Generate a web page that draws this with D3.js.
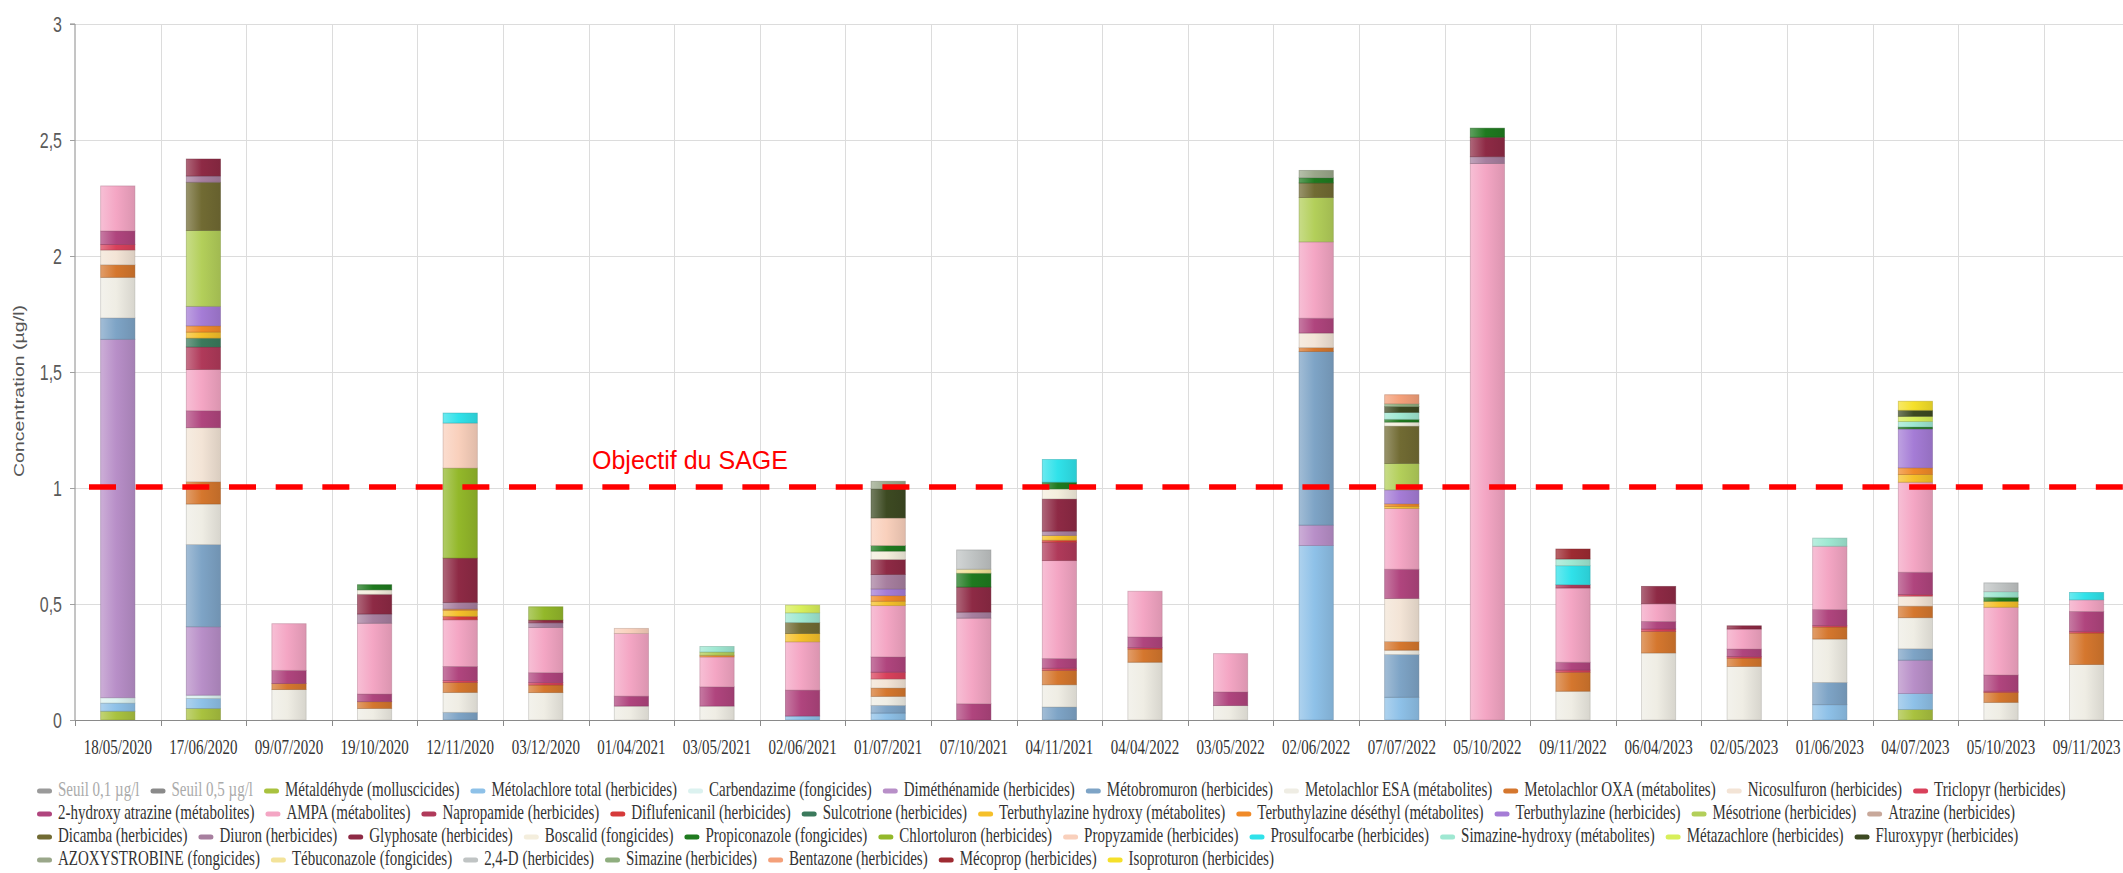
<!DOCTYPE html>
<meta charset="utf-8">
<style>
  body { margin: 0; background: #fff; }
  svg { display: block; }
</style>
<svg width="2123" height="873"></svg>
<script src="https://d3js.org/d3.v7.min.js"></script>
<script>
// dates des prélèvements
const dates = [
  "18/05/2020", "17/06/2020", "09/07/2020", "19/10/2020", "12/11/2020", "03/12/2020",
  "01/04/2021", "03/05/2021", "02/06/2021", "01/07/2021", "07/10/2021", "04/11/2021",
  "04/04/2022", "03/05/2022", "02/06/2022", "07/07/2022", "05/10/2022", "09/11/2022",
  "06/04/2023", "02/05/2023", "01/06/2023", "04/07/2023", "05/10/2023", "09/11/2023"
];

const seriesNames = [
  "Seuil 0,1 µg/l", "Seuil 0,5 µg/l", "Métaldéhyde (molluscicides)", "Métolachlore total (herbicides)",
  "Carbendazime (fongicides)", "Diméthénamide (herbicides)", "Métobromuron (herbicides)",
  "Metolachlor ESA (métabolites)", "Metolachlor OXA (métabolites)", "Nicosulfuron (herbicides)",
  "Triclopyr (herbicides)",
  "2-hydroxy atrazine (métabolites)", "AMPA (métabolites)", "Napropamide (herbicides)",
  "Diflufenicanil (herbicides)", "Sulcotrione (herbicides)", "Terbuthylazine hydroxy (métabolites)",
  "Terbuthylazine déséthyl (métabolites)", "Terbuthylazine (herbicides)", "Mésotrione (herbicides)",
  "Atrazine (herbicides)",
  "Dicamba (herbicides)", "Diuron (herbicides)", "Glyphosate (herbicides)", "Boscalid (fongicides)",
  "Propiconazole (fongicides)", "Chlortoluron (herbicides)", "Propyzamide (herbicides)",
  "Prosulfocarbe (herbicides)", "Simazine-hydroxy (métabolites)", "Métazachlore (herbicides)",
  "Fluroxypyr (herbicides)",
  "AZOXYSTROBINE (fongicides)", "Tébuconazole (fongicides)", "2,4-D (herbicides)",
  "Simazine (herbicides)", "Bentazone (herbicides)", "Mécoprop (herbicides)", "Isoproturon (herbicides)"
];

const seriesColors = [
  "#9a9a9a", "#8a8a8a", "#a9c23f", "#8ec1e8",
  "#dcf2f0", "#b88fc8", "#7ea4c6",
  "#efede4", "#d5772e", "#f3e4d6",
  "#d9415b",
  "#b0457e", "#f4a6c4", "#b03a5a",
  "#d63a3a", "#3b7a5c", "#f5c02a",
  "#f08a28", "#a57cd6", "#b3cf5a",
  "#c8a89a",
  "#716b33", "#a77f9f", "#8e2a45", "#f4eedd",
  "#1f7a1f", "#93b82a", "#f9d0bc",
  "#30e2ea", "#9fe8d2", "#d8ef5a",
  "#3d4a22",
  "#9aa78a", "#f3e39a", "#c0c4c4",
  "#8fae7f", "#f4a07a", "#9e2b32", "#f5e02a"
];

// séries masquées (seuils)
const hiddenSeries = ["Seuil 0,1 µg/l", "Seuil 0,5 µg/l"];
const legendRows = [11, 10, 11, 7];

// concentrations (µg/l), une valeur par date
const seuil01 = [];
const seuil05 = [];
const metaldehyde       = [0.038,0.05,0,0,0,0, 0,0,0,0,0,0, 0,0,0,0,0,0, 0,0,0,0.045,0,0];
const metolachloreTotal = [0.035,0.043,0,0,0,0, 0,0,0.017,0.03,0,0, 0,0,0.752,0.098,0,0, 0,0,0.066,0.069,0,0];
const carbendazime      = [0.023,0.014,0,0,0,0, 0,0,0,0,0,0, 0,0,0,0,0,0, 0,0,0,0,0,0];
const dimethenamide     = [1.545,0.295,0,0,0,0, 0,0,0,0,0,0, 0,0,0.088,0,0,0, 0,0,0,0.144,0,0];
const metobromuron      = [0.092,0.354,0,0,0.033,0, 0,0,0,0.033,0,0.056, 0,0,0.748,0.184,0,0, 0,0,0.096,0.049,0,0];
const metolachlorEsa    = [0.175,0.175,0.131,0.05,0.086,0.118, 0.06,0.06,0,0.039,0,0.096, 0.249,0.062,0,0.019,0,0.124, 0.289,0.231,0.187,0.134,0.076,0.239];
const metolachlorOxa    = [0.054,0.096,0.026,0.029,0.043,0.033, 0,0,0,0.036,0,0.062, 0.057,0,0.017,0.037,0,0.082, 0.093,0.036,0.052,0.05,0.043,0.136];
const nicosulfuron      = [0.064,0.233,0,0,0,0, 0,0,0,0.039,0,0, 0,0,0.063,0.186,0,0, 0,0,0,0.043,0,0];
const triclopyr         = [0.024,0,0,0,0.008,0.01, 0,0,0,0.029,0,0.009, 0.006,0,0,0,0,0.009, 0.01,0.007,0.006,0.007,0.005,0.007];
const hydroxyAtrazine   = [0.058,0.073,0.057,0.033,0.061,0.043, 0.043,0.083,0.112,0.066,0.07,0.042, 0.046,0.059,0.064,0.126,0,0.034, 0.033,0.032,0.069,0.096,0.07,0.086];
const ampa              = [0.194,0.178,0.201,0.305,0.201,0.195, 0.27,0.129,0.208,0.221,0.369,0.422, 0.197,0.165,0.329,0.262,2.399,0.32, 0.076,0.086,0.273,0.388,0.292,0.05];
const napropamide       = [0,0.097,0,0,0,0, 0,0,0,0,0,0.079, 0,0,0,0,0,0.014, 0,0,0,0,0,0];
const diflufenicanil    = [0,0,0,0,0.015,0, 0,0,0,0,0,0.009, 0,0,0,0,0,0, 0,0,0,0,0,0];
const sulcotrione       = [0,0.038,0,0,0,0, 0,0,0,0,0,0, 0,0,0,0,0,0, 0,0,0,0,0,0];
const terbHydroxy       = [0,0.026,0,0,0.026,0, 0,0,0.036,0.019,0,0.02, 0,0,0,0.009,0,0, 0,0,0,0.033,0.026,0];
const terbDesethyl      = [0,0.027,0,0,0.005,0, 0,0.007,0,0.024,0,0, 0,0,0,0.011,0,0, 0,0,0,0.029,0,0];
const terbuthylazine    = [0,0.084,0,0,0,0, 0,0,0,0.029,0,0, 0,0,0,0.06,0,0, 0,0,0,0.168,0,0];
const mesotrione        = [0,0.327,0,0,0,0, 0,0.014,0,0,0,0, 0,0,0.191,0.114,0,0, 0,0,0,0,0,0];
const atrazine          = [];
const dicamba           = [0,0.208,0,0,0,0, 0,0,0.047,0,0,0, 0,0,0.063,0.161,0,0, 0,0,0,0,0,0];
const diuron            = [0,0.027,0,0.04,0.029,0.02, 0,0,0,0.062,0.026,0.019, 0,0,0,0,0.029,0, 0,0,0,0,0,0];
const glyphosate        = [0,0.073,0,0.085,0.191,0.012, 0,0,0,0.065,0.108,0.139, 0,0,0,0,0.084,0, 0.075,0.014,0,0,0,0];
const boscalid          = [0,0,0,0.019,0,0, 0,0,0,0.036,0,0.043, 0,0,0,0.017,0,0, 0,0,0,0,0,0];
const propiconazole     = [0,0,0,0.022,0,0, 0,0,0,0.024,0.06,0.029, 0,0,0.022,0.012,0.039,0, 0,0,0,0.008,0.017,0];
const chlortoluron      = [0,0,0,0,0.388,0.057, 0,0,0,0,0,0, 0,0,0,0,0,0, 0,0,0,0,0,0];
const propyzamide       = [0,0,0,0,0.194,0, 0.022,0,0,0.119,0,0, 0,0,0,0,0,0, 0,0,0,0,0,0];
const prosulfocarbe     = [0,0,0,0,0.043,0, 0,0,0,0,0,0.098, 0,0,0,0,0,0.082, 0,0,0,0,0,0.032];
const simazineHydroxy   = [0,0,0,0,0,0, 0,0.024,0.042,0,0,0, 0,0,0,0.03,0,0.029, 0,0,0.035,0.024,0.024,0];
const metazachlore      = [0,0,0,0,0,0, 0,0,0.033,0,0,0, 0,0,0,0,0,0, 0,0,0,0.022,0,0];
const fluroxypyr        = [0,0,0,0,0,0, 0,0,0,0.125,0,0, 0,0,0,0.025,0,0, 0,0,0,0.026,0,0];
const azoxystrobine     = [0,0,0,0,0,0, 0,0,0,0.033,0,0, 0,0,0.032,0,0,0, 0,0,0,0,0,0];
const tebuconazole      = [0,0,0,0,0,0, 0,0,0,0,0.017,0, 0,0,0,0,0,0, 0,0,0,0,0,0];
const d24               = [0,0,0,0,0,0, 0,0,0,0,0.083,0, 0,0,0,0,0,0, 0,0,0,0,0.038,0];
const simazine          = [0,0,0,0,0,0, 0,0,0,0,0,0, 0,0,0,0.012,0,0, 0,0,0,0,0,0];
const bentazone         = [0,0,0,0,0,0, 0,0,0,0,0,0, 0,0,0,0.039,0,0, 0,0,0,0,0,0];
const mecoprop          = [0,0,0,0,0,0, 0,0,0,0,0,0, 0,0,0,0,0,0.043, 0,0,0,0,0,0];
const isoproturon       = [0,0,0,0,0,0, 0,0,0,0,0,0, 0,0,0,0,0,0, 0,0,0,0.039,0,0];

const seriesValues = [
  seuil01, seuil05, metaldehyde, metolachloreTotal, carbendazime, dimethenamide, metobromuron,
  metolachlorEsa, metolachlorOxa, nicosulfuron, triclopyr,
  hydroxyAtrazine, ampa, napropamide, diflufenicanil, sulcotrione, terbHydroxy, terbDesethyl,
  terbuthylazine, mesotrione, atrazine,
  dicamba, diuron, glyphosate, boscalid, propiconazole, chlortoluron, propyzamide, prosulfocarbe,
  simazineHydroxy, metazachlore, fluroxypyr,
  azoxystrobine, tebuconazole, d24, simazine, bentazone, mecoprop, isoproturon
];

const yTicks = [0, 0.5, 1, 1.5, 2, 2.5, 3];
const objective = 1;
const objectiveLabel = "Objectif du SAGE";
const yTitle = "Concentration (µg/l)";

// ---------------------------------------------------------------
const W = 2123, H = 873;
const margin = {top: 24, left: 75, bottom: 153};
const stepX = 85.6;
const stretch = 1.4;   // le rendu d'origine est étiré verticalement

const svg = d3.select("svg");
const fr = d3.formatLocale({decimal: ",", thousands: " ", grouping: [3], currency: ["", " €"]});
const fmt = fr.format("~g");

const table = dates.map((d, i) => {
  const row = {date: d};
  seriesNames.forEach((n, k) => row[n] = seriesValues[k][i] || 0);
  return row;
});

const colorOf = new Map(seriesNames.map((n, k) => [n, seriesColors[k]]));
const keys = seriesNames.filter(n => !hiddenSeries.includes(n));
const stacked = d3.stack().keys(keys)(table);

const x = d3.scaleBand()
    .domain(dates)
    .range([margin.left, margin.left + stepX * dates.length])
    .paddingInner(0.6)
    .paddingOuter(0.3);

const y = d3.scaleLinear()
    .domain([0, 3])
    .range([H - margin.bottom, margin.top]);

// dégradés des barres
const defs = svg.append("defs");
seriesNames.forEach((n, k) => {
  const c = seriesColors[k];
  const g = defs.append("linearGradient")
      .attr("id", "grad" + k)
      .attr("x1", 0).attr("x2", 1).attr("y1", 0).attr("y2", 0);
  g.append("stop").attr("offset", "0%").attr("stop-color", d3.interpolateRgb(c, "#fff")(0.28));
  g.append("stop").attr("offset", "45%").attr("stop-color", c);
  g.append("stop").attr("offset", "100%").attr("stop-color", d3.color(c).darker(0.3));
});

// grille
const boundaries = d3.range(dates.length + 1).map(i => margin.left + i * x.step());

svg.append("g")
    .attr("stroke", "#dcdcdc")
    .attr("stroke-width", 1)
  .selectAll("line.h")
  .data(yTicks.filter(t => t > 0))
  .join("line")
    .attr("x1", margin.left).attr("x2", W)
    .attr("y1", d => Math.round(y(d)) + 0.5).attr("y2", d => Math.round(y(d)) + 0.5);

svg.append("g")
    .attr("stroke", "#dcdcdc")
    .attr("stroke-width", 1)
  .selectAll("line")
  .data(boundaries.slice(1))
  .join("line")
    .attr("x1", d => Math.round(d) + 0.5).attr("x2", d => Math.round(d) + 0.5)
    .attr("y1", y(3)).attr("y2", y(0));

// barres empilées
svg.append("g")
  .selectAll("g")
  .data(stacked)
  .join("g")
    .attr("fill", d => `url(#grad${seriesNames.indexOf(d.key)})`)
    .attr("stroke", d => d3.color(colorOf.get(d.key)).darker(0.9))
    .attr("stroke-opacity", 0.55)
    .attr("stroke-width", 0.8)
  .selectAll("rect")
  .data(d => d.filter(s => s[1] - s[0] > 0))
  .join("rect")
    .attr("x", d => x(d.data.date))
    .attr("width", x.bandwidth())
    .attr("y", d => y(d[1]))
    .attr("height", d => y(d[0]) - y(d[1]));

// axe Y
const yAxis = svg.append("g")
    .attr("transform", `translate(${margin.left},0)`)
    .call(d3.axisLeft(y).tickValues(yTicks).tickFormat(fmt).tickSize(5).tickPadding(8))
    .call(g => g.select(".domain").attr("stroke", "#8a8a8a").attr("d", `M-5,${y(3)}H0V${y(0)}`))
    .call(g => g.selectAll(".tick line").attr("stroke", "#a0a0a0"));
yAxis.selectAll(".tick text")
    .attr("font-family", "Liberation Sans, Arial, sans-serif")
    .attr("font-size", 16)
    .attr("fill", "#5a5a5a")
    .attr("dy", null)
    .attr("y", 0.32 * 16)
    .attr("transform", `scale(1,${stretch})`);

svg.append("text")
    .attr("transform", `translate(24,391) rotate(-90)`)
    .attr("text-anchor", "middle")
    .attr("font-family", "Liberation Sans, Arial, sans-serif")
    .attr("font-size", 14)
    .attr("fill", "#555")
    .attr("textLength", 172)
    .attr("lengthAdjust", "spacingAndGlyphs")
    .text(yTitle);

// axe X
const x0 = y(0);
svg.append("line")
    .attr("x1", margin.left).attr("x2", W)
    .attr("y1", x0 + 0.5).attr("y2", x0 + 0.5)
    .attr("stroke", "#8a8a8a").attr("stroke-width", 1.2);

svg.append("g")
    .attr("stroke", "#8a8a8a")
  .selectAll("line")
  .data(boundaries)
  .join("line")
    .attr("x1", d => Math.round(d) + 0.5).attr("x2", d => Math.round(d) + 0.5)
    .attr("y1", x0).attr("y2", x0 + 6);

svg.append("g")
    .attr("font-family", "Liberation Serif, Times New Roman, serif")
    .attr("font-size", 15)
    .attr("fill", "#333")
    .attr("text-anchor", "middle")
  .selectAll("text")
  .data(dates)
  .join("text")
    .attr("transform", d => `translate(${x(d) + x.bandwidth() / 2},${x0 + 34}) scale(1,${stretch})`)
    .text(d => d);

// objectif du SAGE
svg.append("line")
    .attr("x1", 89).attr("x2", W)
    .attr("y1", y(objective) - 1).attr("y2", y(objective) - 1)
    .attr("stroke", "#ff0000")
    .attr("stroke-width", 5.5)
    .attr("stroke-dasharray", "27 19.67");

svg.append("text")
    .attr("x", 592)
    .attr("y", 469)
    .attr("font-family", "Liberation Sans, Arial, sans-serif")
    .attr("font-size", 25)
    .attr("fill", "#ff0000")
    .text(objectiveLabel);

// légende
const legend = svg.append("g")
    .attr("font-family", "Liberation Serif, Times New Roman, serif")
    .attr("font-size", 15);

const rowY = [791, 814, 837, 860];
let idx = 0;
legendRows.forEach((count, r) => {
  let cx = 37;
  for (let j = 0; j < count; j++, idx++) {
    const name = seriesNames[idx];
    const hidden = hiddenSeries.includes(name);
    const item = legend.append("g");
    item.append("rect")
        .attr("x", cx).attr("y", rowY[r] - 2.5)
        .attr("width", 15).attr("height", 5)
        .attr("rx", 2.5)
        .attr("fill", seriesColors[idx]);
    const t = item.append("text")
        .attr("transform", `translate(${cx + 21},${rowY[r] + 5}) scale(1,${stretch})`)
        .attr("fill", hidden ? "#ababab" : "#333")
        .text(name);
    cx += 21 + t.node().getComputedTextLength() + 11;
  }
});
</script>
